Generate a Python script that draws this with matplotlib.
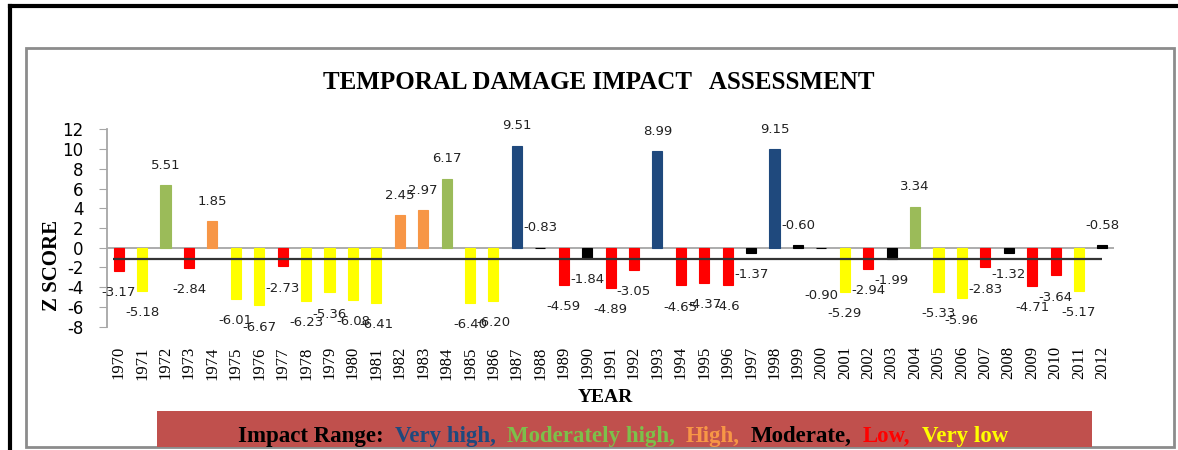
import numpy as np
import matplotlib
matplotlib.use('Agg')
import matplotlib.pyplot as plt
from matplotlib.patches import Rectangle
from matplotlib.lines import Line2D
from matplotlib.offsetbox import TextArea, HPacker, AnnotationBbox

plt.rcParams['axes.unicode_minus'] = False

### data
years = list(range(1970, 2013))
score_labels = ['-3.17', '-5.18', '5.51', '-2.84', '1.85', '-6.01', '-6.67', '-2.73',
                '-6.23', '-5.36', '-6.08', '-6.41', '2.45', '2.97', '6.17', '-6.40',
                '-6.20', '9.51', '-0.83', '-4.59', '-1.84', '-4.89', '-3.05', '8.99',
                '-4.65', '-4.37', '-4.6', '-1.37', '9.15', '-0.60', '-0.90', '-5.29',
                '-2.94', '-1.99', '3.34', '-5.33', '-5.96', '-2.83', '-1.32', '-4.71',
                '-3.64', '-5.17', '-0.58']
z_scores = [float(s) for s in score_labels]
impact = ['Low', 'Very low', 'Moderately high', 'Low', 'High', 'Very low', 'Very low', 'Low',
          'Very low', 'Very low', 'Very low', 'Very low', 'High', 'High', 'Moderately high', 'Very low',
          'Very low', 'Very high', 'Moderate', 'Low', 'Moderate', 'Low', 'Low', 'Very high',
          'Low', 'Low', 'Low', 'Moderate', 'Very high', 'Moderate', 'Moderate', 'Very low',
          'Low', 'Moderate', 'Moderately high', 'Very low', 'Very low', 'Low', 'Moderate', 'Low',
          'Low', 'Very low', 'Moderate']

# bars sit on the series mean, labels keep the raw score
bar_shift = 0.83
ref_level = -1.18

bar_colors = {'Very high': '#1F497D', 'Moderately high': '#9BBB59', 'High': '#F79646',
              'Moderate': '#000000', 'Low': '#FF0000', 'Very low': '#FFFF00'}
legend_parts = [('Impact Range:', '#000000'), ('Very high,', '#1F497D'),
                ('Moderately high,', '#7CC04A'), ('High,', '#F79646'),
                ('Moderate,', '#000000'), ('Low,', '#FF0000'), ('Very low', '#FFFF00')]

serif = 'Liberation Serif'

fig = plt.figure(figsize=(11.78, 4.5), dpi=100)
ax = fig.add_axes([0.0908, 0.274, 0.855, 0.4387])

x = np.arange(len(years))
h = np.array(z_scores) + bar_shift
cols = [bar_colors[c] for c in impact]

ax.bar(x, h, width=0.43, color=cols, edgecolor=cols, linewidth=0.8, zorder=2)
ax.axhline(0, color='#a6a6a6', lw=1.3, zorder=1)
ax.hlines(ref_level, -0.25, x[-1], color='#333333', lw=1.6, zorder=3)

for i in x:
    y = h[i] + 2.0 if h[i] >= 0 else h[i] - 2.2
    if years[i] == 2000:
        y -= 2.6
    ax.text(i, y, score_labels[i], ha='center', va='center', fontsize=9.5, color='#222222')

ax.set_xlim(-0.5, len(years) - 0.5)
ax.set_ylim(-8, 12)
ax.set_yticks(range(-8, 13, 2))
ax.set_xticks(x)
ax.set_xticklabels(years, rotation=90, fontsize=12, family=serif)
ax.tick_params(axis='x', length=0, pad=14)
ax.tick_params(axis='y', length=6, color='#a6a6a6', pad=11, labelsize=12)
for s in ['top', 'right', 'bottom']:
    ax.spines[s].set_visible(False)
ax.spines['left'].set_color('#a6a6a6')
ax.spines['left'].set_linewidth(1.3)

# frames and text around the plot
fig.add_artist(Line2D([0.0085, 0.0085], [0, 0.9867], color='black', lw=3, transform=fig.transFigure))
fig.add_artist(Line2D([0.0085, 1.0], [0.9867, 0.9867], color='black', lw=3, transform=fig.transFigure))
fig.add_artist(Rectangle((0.0221, 0.0067), 0.9745, 0.8866, fill=False, edgecolor='#8c8c8c',
                         lw=2, transform=fig.transFigure))
fig.add_artist(Rectangle((0.1333, 0.0067), 0.7937, 0.08, facecolor='#C0504D', edgecolor='none',
                         transform=fig.transFigure, zorder=2))

fig.text(0.508, 0.8156, 'TEMPORAL DAMAGE IMPACT   ASSESSMENT', ha='center', va='center',
         fontsize=18, fontweight='bold', family=serif)
fig.text(0.0440, 0.411, 'Z SCORE', rotation=90, ha='center', va='center',
         fontsize=15, fontweight='bold', family=serif)
fig.text(0.5136, 0.1156, 'YEAR', ha='center', va='center',
         fontsize=14, fontweight='bold', family=serif)

areas = [TextArea(t, textprops=dict(color=c, fontsize=16.5, fontweight='bold', family=serif))
         for t, c in legend_parts]
pack = HPacker(children=areas, sep=8, pad=0, align='baseline')
ab = AnnotationBbox(pack, (0.529, 0.031), xycoords='figure fraction', frameon=False,
                    box_alignment=(0.5, 0.5), zorder=5)
fig.add_artist(ab)

fig.savefig('out.png', dpi=100)
plt.close('all')
